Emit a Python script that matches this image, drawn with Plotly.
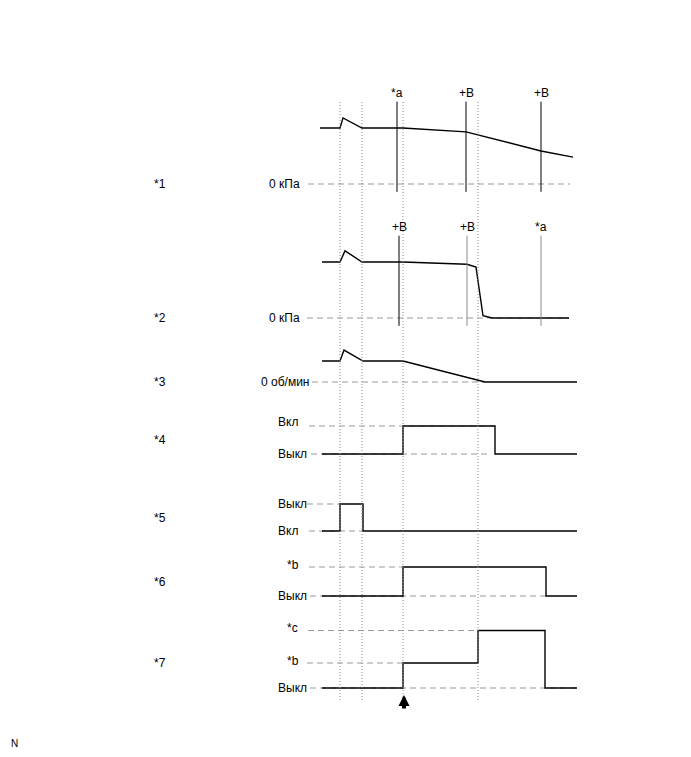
import plotly.graph_objects as go

# ---------------- data (time in s, levels in relative units) ----------------
t_events = [2.0, 4.2, 8.3, 15.8]          # dotted reference lines

ch1_t = [0.0, 2.0, 2.3, 4.2, 8.3, 14.6, 22.1, 25.3]
ch1_v = [1.0, 1.0, 1.18, 1.0, 1.0, 0.93, 0.59, 0.48]
ch1_marks_t = [7.7, 14.6, 22.1]
ch1_marks_lbl = ["*a", "+B", "+B"]

ch2_t = [0.2, 2.0, 2.5, 4.2, 8.3, 14.7, 15.6, 16.3, 17.2, 24.9]
ch2_v = [1.0, 1.0, 1.2, 1.0, 1.0, 0.96, 0.91, 0.04, 0.0, 0.0]
ch2_marks_t = [7.9, 14.7, 22.1]
ch2_marks_lbl = ["+B", "+B", "*a"]

ch3_t = [0.2, 2.0, 2.4, 4.3, 8.3, 16.5, 25.7]
ch3_v = [1.0, 1.0, 1.52, 1.0, 1.0, 0.0, 0.0]

ch4_t = [0.2, 8.3, 8.3, 17.5, 17.5, 25.7]
ch4_v = [0, 0, 1, 1, 0, 0]

ch5_t = [0.2, 2.0, 2.0, 4.3, 4.3, 25.7]
ch5_v = [0, 0, 1, 1, 0, 0]

ch6_t = [0.2, 8.3, 8.3, 22.6, 22.6, 25.7]
ch6_v = [0, 0, 1, 1, 0, 0]

ch7_t = [0.2, 8.3, 8.3, 15.8, 15.8, 22.5, 22.5, 25.7]
ch7_v = [0, 0, 1, 1, 2.3, 2.3, 0, 0]

channel_names = ["*1", "*2", "*3", "*4", "*5", "*6", "*7"]

# level labels: (level, text)
ch_levels = [
    [(0, "0 кПа")],
    [(0, "0 кПа")],
    [(0, "0 об/мин")],
    [(1, "Вкл"), (0, "Выкл")],
    [(1, "Выкл"), (0, "Вкл")],
    [(1, "*b"), (0, "Выкл")],
    [(2.3, "*c"), (1, "*b"), (0, "Выкл")],
]
# dashed reference levels: (level, t_start, t_end)
ch_dashes = [
    [(0, -1.2, 25.0)],
    [(0, -1.3, 24.9)],
    [(0, -0.8, 16.5)],
    [(1, -1.1, 17.5), (0, -0.9, 17.0)],
    [(1, -1.3, 2.0), (0, -1.1, 4.3)],
    [(1, -1.1, 8.3), (0, -1.0, 22.6)],
    [(2.3, -1.2, 15.8), (1, -1.3, 8.3), (0, -1.0, 25.7)],
]

# ---------------- layout geometry ----------------
W, H = 691, 757
OFF = 8  # page body margin of the browser
X0_PX, PX_PER_S = 320 - OFF, 10.0
# (pixel of level 0, pixel of level 1) per channel, page coordinates
ch_px = [(184, 128), (318, 262), (382, 361), (454, 426), (531, 504), (596, 567), (688, 663)]


def py(p):
    """page pixel row -> paper fraction"""
    return 1 - (p - OFF) / H


waves = [(ch1_t, ch1_v), (ch2_t, ch2_v), (ch3_t, ch3_v), (ch4_t, ch4_v),
         (ch5_t, ch5_v), (ch6_t, ch6_v), (ch7_t, ch7_v)]

FONT = dict(family="Liberation Sans, Arial, sans-serif", size=12, color="black")
DASH_COL = "#999999"

fig = go.Figure()
layout = dict(
    width=W, height=H, margin=dict(l=0, r=0, t=0, b=0),
    paper_bgcolor="white", plot_bgcolor="white", showlegend=False,
    xaxis=dict(range=[-X0_PX / PX_PER_S, (W - X0_PX) / PX_PER_S], visible=False, fixedrange=True),
)

annotations = []
shapes = []

for i in range(7):
    z, u = ch_px[i]
    z -= OFF
    u -= OFF
    s = z - u
    yname = "y" if i == 0 else f"y{i+1}"
    key = "yaxis" if i == 0 else f"yaxis{i+1}"
    ax = dict(range=[(z - H) / s, z / s], domain=[0, 1], visible=False, fixedrange=True)
    if i > 0:
        ax["overlaying"] = "y"
    layout[key] = ax

    # dashed reference levels
    for lv, ta, tb in ch_dashes[i]:
        fig.add_trace(go.Scatter(x=[ta, tb], y=[lv, lv], mode="lines", yaxis=yname,
                                 line=dict(color=DASH_COL, width=1, dash="6px,4px"),
                                 hoverinfo="skip"))
    # waveform
    tt, vv = waves[i]
    fig.add_trace(go.Scatter(x=tt, y=vv, mode="lines", yaxis=yname,
                             line=dict(color="black", width=1.4), hoverinfo="skip"))

    # level labels
    for lv, txt in ch_levels[i]:
        if i < 3:
            annotations.append(dict(x=-1.8 if i < 2 else -0.9, y=lv, xref="x", yref=yname,
                                    text=txt, showarrow=False, xanchor="right",
                                    yanchor="middle", font=FONT))
        else:
            left = -4.4 if txt in ("Вкл", "Выкл") else -3.5
            ysh = 0
            if txt == "Вкл" and lv == 1:
                ysh = 4
            if txt == "*c":
                ysh = 3
            if txt == "*b":
                ysh = 2
            annotations.append(dict(x=left, y=lv, xref="x", yref=yname, text=txt,
                                    showarrow=False, xanchor="left", yanchor="middle",
                                    yshift=ysh, font=FONT))
    # channel name
    mid = {0: 0, 1: 0, 2: 0, 3: 0.5, 4: 0.5, 5: 0.5, 6: 1}[i]
    annotations.append(dict(x=-16.8, y=mid, xref="x", yref=yname, text=channel_names[i],
                            showarrow=False, xanchor="left", yanchor="middle", font=FONT))

# marker lines on channels 1 and 2
for i, (mt, ml, cols) in enumerate([(ch1_marks_t, ch1_marks_lbl, ["black", "black", "black"]),
                                    (ch2_marks_t, ch2_marks_lbl, ["black", "#8a8a8a", "#8a8a8a"])]):
    yname = "y" if i == 0 else "y2"
    for t, lbl, c in zip(mt, ml, cols):
        fig.add_trace(go.Scatter(x=[t, t], y=[-0.14, 1.47], mode="lines", yaxis=yname,
                                 line=dict(color=c, width=1), hoverinfo="skip"))
        annotations.append(dict(x=t, y=1.47, xref="x", yref=yname, text=lbl,
                                showarrow=False, yanchor="bottom", yshift=0, font=FONT))

# dotted vertical reference lines
for t in t_events:
    shapes.append(dict(type="line", xref="x", yref="paper", x0=t, x1=t,
                       y0=py(700), y1=py(101),
                       line=dict(color="#8a8a8a", width=1, dash="1px,2px")))

# arrow at the trigger event
annotations.append(dict(x=t_events[2] + 0.1, y=py(695), xref="x", yref="paper",
                        ax=0, ay=15, text="", showarrow=True, arrowhead=2,
                        arrowsize=0.55, arrowwidth=4, arrowcolor="black"))

annotations.append(dict(x=(9 - OFF) / W, y=py(743), xref="paper", yref="paper", text="N",
                        showarrow=False, xanchor="left", yanchor="middle",
                        font=dict(family="Liberation Sans, Arial, sans-serif", size=10, color="black")))

layout["annotations"] = annotations
layout["shapes"] = shapes
fig.update_layout(**layout)
fig.write_html("out.html")
